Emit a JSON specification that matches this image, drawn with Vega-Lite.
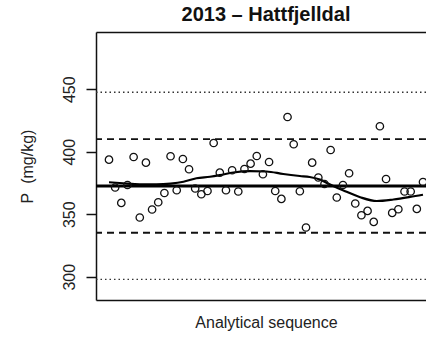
{
  "$schema": "https://vega.github.io/schema/vega-lite/v6.json",
  "autosize": {"type": "none"},
  "padding": {"left": 96, "top": 32, "right": 0, "bottom": 37},
  "width": 330,
  "height": 268,
  "background": "white",
  "title": {"text": "2013 – Hattfjelldal", "font": "Liberation Sans", "fontSize": 20, "fontWeight": "bold", "color": "#111", "anchor": "middle", "dx": 5, "offset": 7},
  "config": {
    "view": {"stroke": null},
    "axis": {"domainColor": "#111", "domainWidth": 1.5, "tickColor": "#111", "tickWidth": 1.5, "grid": false, "labelFont": "Liberation Sans", "titleFont": "Liberation Sans", "labelColor": "#222", "titleColor": "#222", "labelFontSize": 16, "titleFontSize": 16, "titleFontWeight": "normal"}
  },
  "datasets": {
    "pts": [
      {"i": 1, "p": 393.7}, {"i": 2, "p": 371.4}, {"i": 3, "p": 359.1}, {"i": 4, "p": 373.4},
      {"i": 5, "p": 395.8}, {"i": 6, "p": 347.4}, {"i": 7, "p": 391.3}, {"i": 8, "p": 353.8},
      {"i": 9, "p": 359.6}, {"i": 10, "p": 367.0}, {"i": 11, "p": 396.4}, {"i": 12, "p": 369.2},
      {"i": 13, "p": 394.2}, {"i": 14, "p": 386.0}, {"i": 15, "p": 370.6}, {"i": 16, "p": 366.0},
      {"i": 17, "p": 368.6}, {"i": 18, "p": 407.0}, {"i": 19, "p": 383.3}, {"i": 20, "p": 369.2},
      {"i": 21, "p": 385.2}, {"i": 22, "p": 368.2}, {"i": 23, "p": 386.2}, {"i": 24, "p": 390.5},
      {"i": 25, "p": 396.6}, {"i": 26, "p": 382.0}, {"i": 27, "p": 391.8}, {"i": 28, "p": 368.6},
      {"i": 29, "p": 362.3}, {"i": 30, "p": 427.8}, {"i": 31, "p": 406.0}, {"i": 32, "p": 368.4},
      {"i": 33, "p": 339.4}, {"i": 34, "p": 391.3}, {"i": 35, "p": 379.4}, {"i": 36, "p": 374.2},
      {"i": 37, "p": 401.4}, {"i": 38, "p": 363.4}, {"i": 39, "p": 373.4}, {"i": 40, "p": 382.8},
      {"i": 41, "p": 358.6}, {"i": 42, "p": 349.2}, {"i": 43, "p": 352.7}, {"i": 44, "p": 343.9},
      {"i": 45, "p": 420.4}, {"i": 46, "p": 378.2}, {"i": 47, "p": 351.1}, {"i": 48, "p": 354.0},
      {"i": 49, "p": 368.2}, {"i": 50, "p": 368.2}, {"i": 51, "p": 354.3}, {"i": 52, "p": 375.8}
    ],
    "smooth": [
      {"i": 1, "p": 375.6}, {"i": 3.3, "p": 374.8}, {"i": 6, "p": 374.0}, {"i": 8.7, "p": 373.9},
      {"i": 11, "p": 374.5}, {"i": 13.1, "p": 376.0}, {"i": 15.2, "p": 378.8}, {"i": 17.4, "p": 380.0},
      {"i": 19, "p": 381.3}, {"i": 21.2, "p": 383.4}, {"i": 23.9, "p": 384.5}, {"i": 26.6, "p": 384.2},
      {"i": 29.3, "p": 382.2}, {"i": 32, "p": 380.6}, {"i": 33.6, "p": 379.8}, {"i": 35.4, "p": 377.5},
      {"i": 36.4, "p": 375.0}, {"i": 39, "p": 369.2}, {"i": 41.8, "p": 363.6}, {"i": 44.5, "p": 360.6},
      {"i": 47.2, "p": 361.8}, {"i": 49.9, "p": 363.8}, {"i": 52, "p": 365.6}
    ],
    "limits": [
      {"kind": "mean", "p": 372.6},
      {"kind": "warn", "p": 410.1},
      {"kind": "warn", "p": 335.2},
      {"kind": "action", "p": 447.6},
      {"kind": "action", "p": 297.9}
    ]
  },
  "resolve": {"axis": {"x": "independent"}},
  "layer": [
    {
      "data": {"name": "limits"},
      "transform": [{"filter": "datum.kind === 'action'"}],
      "mark": {"type": "rule", "color": "#333", "strokeWidth": 1.3, "strokeDash": [1.5, 3]},
      "encoding": {
        "y": {"field": "p", "type": "quantitative", "scale": {"domain": [281.4, 495.8], "nice": false, "zero": false},
          "axis": {"values": [300, 350, 400, 450], "title": "P\u00a0\u00a0(mg/kg)", "labelAngle": -90, "labelAlign": "center", "labelBaseline": "alphabetic", "tickSize": 10, "labelPadding": 12, "titlePadding": 26}}
      }
    },
    {
      "data": {"name": "limits"},
      "transform": [{"filter": "datum.kind === 'warn'"}],
      "mark": {"type": "rule", "color": "#111", "strokeWidth": 1.8, "strokeDash": [7, 5]},
      "encoding": {"y": {"field": "p", "type": "quantitative"}}
    },
    {
      "data": {"name": "limits"},
      "transform": [{"filter": "datum.kind === 'mean'"}],
      "mark": {"type": "rule", "color": "#000", "strokeWidth": 3},
      "encoding": {"y": {"field": "p", "type": "quantitative"}}
    },
    {
      "data": {"name": "smooth"},
      "mark": {"type": "line", "color": "#000", "strokeWidth": 2.2, "interpolate": "monotone", "clip": true},
      "encoding": {
        "x": {"field": "i", "type": "quantitative", "scale": {"domain": [-1.11, 52.49], "nice": false, "zero": false},
          "axis": {"orient": "top", "ticks": false, "labels": false, "title": null, "grid": false}},
        "y": {"field": "p", "type": "quantitative"}
      }
    },
    {
      "data": {"name": "pts"},
      "mark": {"type": "point", "filled": false, "stroke": "#111", "strokeWidth": 1.3, "size": 55, "opacity": 1},
      "encoding": {
        "x": {"field": "i", "type": "quantitative",
          "axis": {"orient": "bottom", "ticks": false, "labels": false, "title": "Analytical sequence", "titleX": 170, "titleAnchor": "middle", "titlePadding": 14}},
        "y": {"field": "p", "type": "quantitative"}
      }
    }
  ]
}
